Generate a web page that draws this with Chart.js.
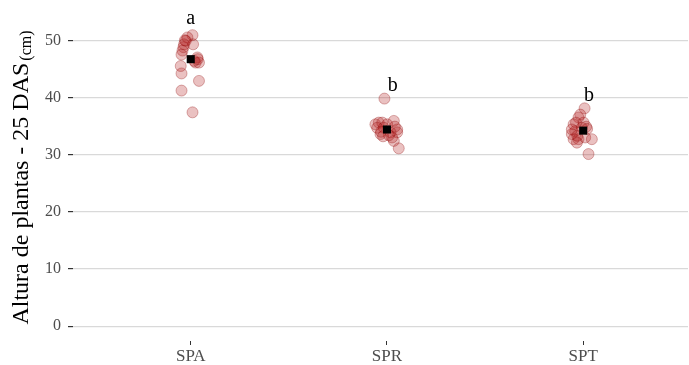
<!DOCTYPE html>
<html>
<head>
<meta charset="utf-8">
<script src="https://cdn.jsdelivr.net/npm/chart.js@4/dist/chart.umd.min.js"></script>
<style>
  html, body { margin: 0; padding: 0; background: #fff; }
  #wrap { width: 689px; height: 365px; position: relative; }
</style>
</head>
<body>
<div id="wrap"><canvas id="c" width="689" height="365"></canvas></div>
<script>
// Treatments
const categories = ['SPA', 'SPR', 'SPT'];

// Plant height (cm) per plant, with horizontal jitter offsets
const spaHeight = [50.9, 50.5, 49.9, 49.3, 48.8, 48.2, 47.5, 49.3, 47.0, 46.1, 46.1, 46.4, 45.5, 44.2, 42.9, 41.2, 37.4, 50.0, 46.7];
const spaJitter = [0.009, -0.017, -0.025, -0.034, -0.037, -0.042, -0.047, 0.012, 0.034, 0.025, 0.042, 0.017, -0.051, -0.047, 0.042, -0.047, 0.009, -0.030, 0.036];

const sprHeight = [39.8, 35.6, 35.3, 35.6, 35.9, 34.4, 33.9, 33.9, 33.6, 34.7, 32.4, 31.1, 33.0, 34.7, 35.3, 33.4, 34.0, 34.9, 33.2];
const sprJitter = [-0.013, -0.042, -0.059, -0.024, 0.035, 0.052, 0.052, 0.018, -0.033, -0.050, 0.035, 0.060, 0.026, -0.016, 0.001, 0.010, -0.030, 0.040, -0.020];

const sptHeight = [38.1, 37.0, 36.5, 35.6, 35.3, 35.6, 34.7, 34.1, 33.6, 32.7, 32.7, 33.0, 32.7, 32.1, 30.1, 34.4, 34.9, 33.3, 34.5];
const sptJitter = [0.007, -0.015, -0.024, -0.037, -0.049, 0.002, -0.007, -0.041, -0.058, -0.049, -0.024, 0.010, 0.044, -0.032, 0.027, -0.058, 0.015, -0.030, 0.020];

// Group means
const means = [46.7, 34.4, 34.2];

// Mean comparison letters
const letters = ['a', 'b', 'b'];
const letterY = [53.8, 42.0, 40.3];
const letterShift = [0, 0.03, 0.03];

// Y axis ticks
const yTicks = [0, 10, 20, 30, 40, 50];

const groups = [[spaHeight, spaJitter], [sprHeight, sprJitter], [sptHeight, sptJitter]];
const pointData = [];
groups.forEach(([h, j], gi) => {
  h.forEach((v, k) => pointData.push({ x: gi + j[k], y: v }));
});
const meanData = means.map((m, i) => ({ x: i, y: m }));

const SERIF = '"Liberation Serif", "DejaVu Serif", serif';

// Letters above each group and the rotated y-axis title with subscript unit
const annotate = {
  id: 'annotate',
  afterDatasetsDraw(chart) {
    const ctx = chart.ctx;
    const xs = chart.scales.x, ys = chart.scales.y;
    ctx.save();
    ctx.fillStyle = '#000';
    ctx.font = '20px ' + SERIF;
    ctx.textAlign = 'center';
    ctx.textBaseline = 'middle';
    letters.forEach((t, i) => {
      ctx.fillText(t, xs.getPixelForValue(i + letterShift[i]), ys.getPixelForValue(letterY[i]));
    });
    ctx.restore();
  },
  afterDraw(chart) {
    const ctx = chart.ctx;
    const area = chart.chartArea;
    const main = 'Altura de plantas - 25 DAS';
    const sub = '(cm)';
    ctx.save();
    ctx.font = '24px ' + SERIF;
    const wMain = ctx.measureText(main).width;
    ctx.font = '16px ' + SERIF;
    const wSub = ctx.measureText(sub).width;
    const total = wMain + 2 + wSub;
    const cy = (area.top + area.bottom) / 2;
    ctx.translate(28, cy);
    ctx.rotate(-Math.PI / 2);
    ctx.fillStyle = '#000';
    ctx.textBaseline = 'alphabetic';
    ctx.textAlign = 'left';
    ctx.font = '24px ' + SERIF;
    ctx.fillText(main, -total / 2, 0);
    ctx.font = '16px ' + SERIF;
    ctx.fillText(sub, -total / 2 + wMain + 2, 3);
    ctx.restore();
  }
};

new Chart(document.getElementById('c'), {
  type: 'scatter',
  data: {
    datasets: [
      {
        data: pointData,
        backgroundColor: 'rgba(178,34,34,0.28)',
        borderColor: 'rgba(139,0,0,0.3)',
        borderWidth: 1,
        pointRadius: 5.5,
        pointHoverRadius: 5.5,
        order: 2
      },
      {
        data: meanData,
        pointStyle: 'rect',
        backgroundColor: '#000',
        borderColor: '#000',
        borderWidth: 0,
        pointRadius: 5.7,
        pointHoverRadius: 5.7,
        order: 1
      }
    ]
  },
  options: {
    responsive: false,
    animation: false,
    events: [],
    layout: { autoPadding: false, padding: { top: 14, right: 1, left: 0, bottom: 0 } },
    plugins: { legend: { display: false }, tooltip: { enabled: false } },
    scales: {
      x: {
        type: 'linear',
        min: -0.6,
        max: 2.534,
        afterBuildTicks: (s) => { s.ticks = categories.map((_, i) => ({ value: i })); },
        afterFit: (s) => { s.height = 24; s.paddingLeft = 0; s.paddingRight = 0; },
        border: { display: false },
        grid: { drawOnChartArea: false, drawTicks: true, tickLength: 4, tickColor: '#333', lineWidth: 1 },
        ticks: {
          callback: (v) => categories[v],
          color: '#4d4d4d',
          font: { family: SERIF, size: 17 },
          padding: 1,
          maxRotation: 0
        }
      },
      y: {
        min: -2.6,
        max: 54.6,
        afterBuildTicks: (s) => { s.ticks = yTicks.map(v => ({ value: v })); },
        afterFit: (s) => { s.width = 73; s.paddingTop = 0; s.paddingBottom = 0; },
        border: { display: false },
        grid: { color: '#d9d9d9', lineWidth: 1.2, tickLength: 5, tickColor: '#333' },
        ticks: {
          color: '#4d4d4d',
          font: { family: SERIF, size: 16 },
          padding: 7
        }
      }
    }
  },
  plugins: [annotate]
});
</script>
</body>
</html>
